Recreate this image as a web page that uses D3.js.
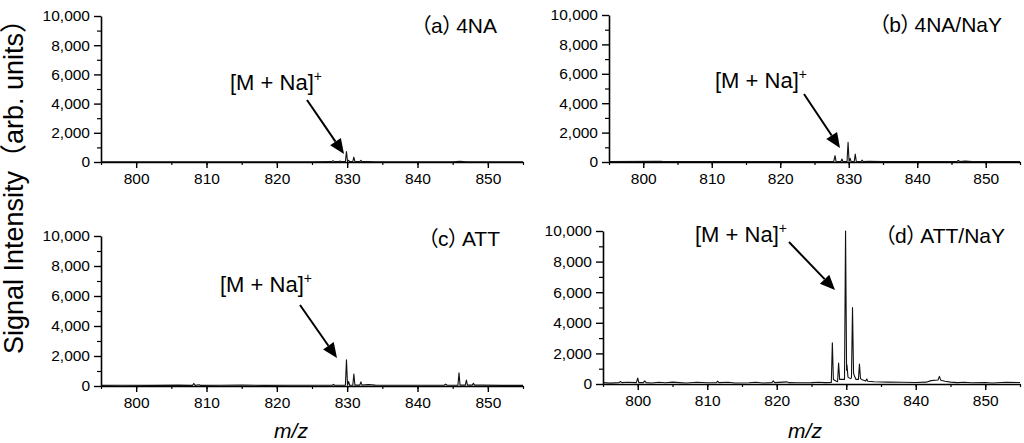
<!DOCTYPE html>
<html><head><meta charset="utf-8">
<script src="https://cdn.jsdelivr.net/npm/d3@7"></script>
<style>
html,body{margin:0;padding:0;background:#fff;}
svg{display:block;}
text{font-family:"Liberation Sans",Arial,"Noto Sans CJK JP",sans-serif;fill:#000;}
.ptitle{font-feature-settings:"palt" 1;}
</style></head>
<body>
<svg id="c" width="1024" height="443"></svg>
<script>
// ---- data ----
const xTicks = [800, 810, 820, 830, 840, 850];
const yTicks = [0, 2000, 4000, 6000, 8000, 10000];
const panelTags = ["（a）", "（b）", "（c）", "（d）"];
const panelNames = ["4NA", "4NA/NaY", "ATT", "ATT/NaY"];

// (a) 4NA
const mzA  = [795,800,805,810,815,820,825,827.8,828.0,828.2,828.8,829.0,829.2,829.75,829.9,830.05,830.2,830.35,830.8,830.95,831.1,831.8,831.95,832.1,833,834,840,845,846,847,850,855];
const intA = [20,20,20,20,20,20,20,25,90,25,25,70,25,25,720,30,120,25,25,330,25,25,110,25,30,20,20,20,40,20,20,20];

// (b) 4NA/NaY
const mzB  = [795,802.5,803,810,820,827.8,828.0,828.15,828.85,829.0,829.15,829.75,829.9,830.05,830.2,830.35,830.8,830.95,831.1,831.8,831.95,832.1,833,835,840,845.8,846,846.2,847,848,855];
const intB = [30,45,30,30,30,30,430,30,30,200,30,30,1340,40,250,30,30,540,40,30,130,30,40,30,30,30,100,30,60,30,30];

// (c) ATT
const mzC  = [795,798,802,806,808,808.2,808.4,809,809.2,812,815,818,822,826,827.9,828.05,828.2,829.75,829.9,830.05,830.2,830.35,830.8,830.95,831.1,831.8,831.95,832.1,833,834,838,843.8,844,844.2,845.75,845.9,846.05,846.8,846.95,847.1,847.8,847.95,848.1,849,852,855];
const intC = [40,50,40,60,40,170,40,80,40,50,60,40,50,50,50,110,50,50,1750,60,300,50,50,800,60,60,280,60,90,60,50,50,130,50,60,880,60,60,400,60,60,180,60,60,40,40];

// (d) ATT/NaY
const mzD  = [795,796,797.3,797.5,797.7,798.5,799.8,800.0,800.15,800.8,801,801.2,802,803,804,805,806,807,808.5,810,811.3,811.5,811.7,813,814,816,817,818,819.3,819.5,819.7,821.5,821.7,823,825,826,827,827.85,828.0,828.15,828.5,828.75,828.9,829.05,829.5,829.75,829.9,830.05,830.1,830.25,830.6,830.75,830.9,831.05,831.2,831.4,831.75,831.9,832.05,832.3,832.8,832.95,833.1,834,836,838,840,841.5,842.2,843.2,843.4,843.6,844.2,845,846,847,848,850,851,853,855];
const intD = [90,60,90,160,90,110,90,390,90,90,200,90,70,110,80,120,90,70,110,80,90,180,90,110,70,80,110,70,90,200,90,140,90,80,90,110,90,100,2700,300,200,150,1370,300,300,300,10000,900,1250,450,350,400,5000,700,500,300,300,1300,350,280,200,330,180,150,120,110,100,120,220,260,500,250,180,120,90,110,80,100,70,110,100];

const spectra = [
  {mz: mzA, y: intA},
  {mz: mzB, y: intB},
  {mz: mzC, y: intC},
  {mz: mzD, y: intD}
];

// ---- layout ----
const boxes = [
  {x0:101, x1:523, y0:16,  y1:162},
  {x0:609, x1:1020, y0:15, y1:162},
  {x0:101, x1:523, y0:236, y1:386},
  {x0:603, x1:1020, y0:231, y1:384}
];
const titleAt = [{x:497,y:33},{x:1002,y:32},{x:500,y:246},{x:1005,y:243}];
const labelAt = [{x:230,y:90},{x:715,y:88},{x:220,y:292},{x:695,y:242}];
const arrows = [
  {x1:307,y1:100,x2:344,y2:154},
  {x1:804,y1:94,x2:840,y2:148},
  {x1:300,y1:305,x2:337,y2:358},
  {x1:789,y1:242,x2:835,y2:290}
];

const svg = d3.select("#c");
const fmt = d3.format(",");

spectra.forEach((s, i) => {
  const b = boxes[i];
  const x = d3.scaleLinear().domain([795, 855]).range([b.x0, b.x1]);
  const y = d3.scaleLinear().domain([0, 10000]).range([b.y1, b.y0]);
  const g = svg.append("g");

  // minor ticks
  g.append("g").attr("transform", `translate(0,${b.y1})`)
    .call(d3.axisBottom(x).tickValues(d3.range(795, 856, 5)).tickSize(3).tickSizeOuter(0).tickFormat(""))
    .call(a => a.select(".domain").remove())
    .call(a => a.selectAll("line").attr("stroke-width", 1.2));
  g.append("g").attr("transform", `translate(${b.x0},0)`)
    .call(d3.axisLeft(y).tickValues(d3.range(1000, 10000, 2000)).tickSize(4).tickSizeOuter(0).tickFormat(""))
    .call(a => a.select(".domain").remove())
    .call(a => a.selectAll("line").attr("stroke-width", 1.2));

  // major axes
  const ax = g.append("g").attr("transform", `translate(0,${b.y1})`)
    .call(d3.axisBottom(x).tickValues(xTicks).tickSize(6).tickPadding(5).tickSizeOuter(0));
  const ay = g.append("g").attr("transform", `translate(${b.x0},0)`)
    .call(d3.axisLeft(y).tickValues(yTicks).tickSize(7).tickPadding(4).tickSizeOuter(0).tickFormat(fmt));
  [ax, ay].forEach(a => {
    a.select(".domain").attr("stroke-width", 1.6).attr("stroke", "#000");
    a.selectAll("line").attr("stroke-width", 1.4).attr("stroke", "#000");
    a.selectAll("text").attr("font-size", 15.5).attr("font-family", '"Liberation Sans", Arial, sans-serif').attr("fill", "#000");
  });

  // spectrum line
  const pts = s.mz.map((m, k) => [m, s.y[k]]);
  g.append("path").datum(pts)
    .attr("fill", "none").attr("stroke", "#111").attr("stroke-width", 1.1)
    .attr("stroke-linejoin", "round")
    .attr("d", d3.line().x(d => x(d[0])).y(d => y(d[1])));

  // panel title
  const tt = g.append("text").attr("class", "ptitle").attr("x", titleAt[i].x).attr("y", titleAt[i].y)
    .attr("text-anchor", "end").attr("font-size", 21);
  tt.append("tspan").text(panelTags[i]);
  tt.append("tspan").attr("dx", 3).text(panelNames[i]);

  // [M + Na]+ label
  const t = g.append("text").attr("x", labelAt[i].x).attr("y", labelAt[i].y).attr("font-size", 22);
  t.append("tspan").text("[M + Na]");
  t.append("tspan").attr("font-size", 14).attr("dy", -9).text("+");

  // arrow
  const a = arrows[i];
  const ang = Math.atan2(a.y2 - a.y1, a.x2 - a.x1);
  const hl = 15, hw = 6.5;
  const bx = a.x2 - hl * Math.cos(ang), by = a.y2 - hl * Math.sin(ang);
  g.append("line").attr("x1", a.x1).attr("y1", a.y1).attr("x2", bx).attr("y2", by)
    .attr("stroke", "#000").attr("stroke-width", 2);
  g.append("path").attr("fill", "#000")
    .attr("d", `M${a.x2},${a.y2}L${bx + hw*Math.sin(ang)},${by - hw*Math.cos(ang)}L${bx - hw*Math.sin(ang)},${by + hw*Math.cos(ang)}Z`);
});

// axis titles
svg.append("text").attr("transform", "translate(23,180) rotate(-90)")
  .attr("text-anchor", "middle").attr("font-size", 27).text("Signal Intensity（arb. units）");
[{x:291},{x:805}].forEach(p => {
  svg.append("text").attr("x", p.x).attr("y", 438).attr("text-anchor", "middle")
    .attr("font-size", 21).attr("font-style", "italic").text("m/z");
});
</script>
</body></html>
